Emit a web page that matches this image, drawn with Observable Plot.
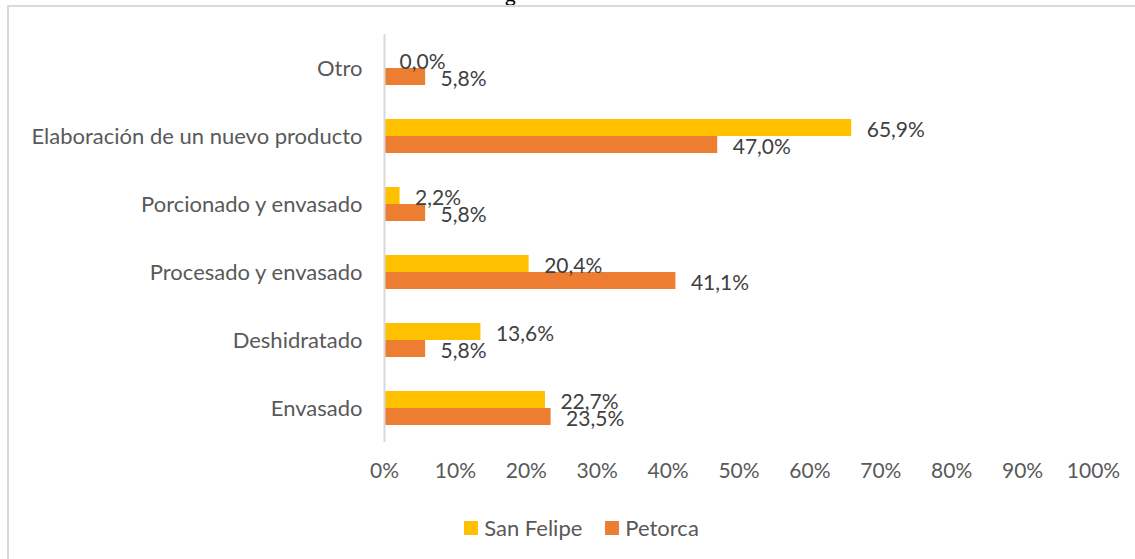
<!DOCTYPE html>
<html>
<head>
<meta charset="utf-8">
<script src="https://cdn.jsdelivr.net/npm/d3@7"></script>
<script src="https://cdn.jsdelivr.net/npm/@observablehq/plot@0.6"></script>
<style>
  html, body { margin: 0; padding: 0; background: #fff; }
  body { width: 1135px; height: 559px; position: relative; overflow: hidden; font-family: Lato, "Open Sans", sans-serif; }
  #frame { position: absolute; left: 7px; top: 5px; width: 1300px; height: 800px; border: 2px solid #d9d9d9; box-sizing: border-box; pointer-events: none; }
  #chart { position: absolute; left: 0; top: 0; }
  #legend { position: absolute; left: 14px; top: 514px; width: 1135px; display: flex; justify-content: center; gap: 23px; font-size: 22px; color: #595959; }
  #legend .item { display: flex; align-items: center; gap: 6px; }
  #legend .sw { width: 14px; height: 14px; display: inline-block; }
  #cut { position: absolute; left: 505px; top: -17px; font-size: 21px; line-height: 21px; color: #000; }
</style>
</head>
<body>
<div id="cut">g</div>
<div id="frame"></div>
<div id="chart"></div>
<div id="legend"></div>
<script>
const categories = ["Otro", "Elaboración de un nuevo producto", "Porcionado y envasado", "Procesado y envasado", "Deshidratado", "Envasado"];
const seriesNames = ["San Felipe", "Petorca"];
const seriesColors = ["#FFC000", "#ED7D31"];
const sanFelipe = [0.0, 65.9, 2.2, 20.4, 13.6, 22.7];
const petorca = [5.8, 47.0, 5.8, 41.1, 5.8, 23.5];
const xTicks = [0, 10, 20, 30, 40, 50, 60, 70, 80, 90, 100];

const rows = [];
categories.forEach((c, i) => {
  rows.push({category: c, series: seriesNames[0], value: sanFelipe[i]});
  rows.push({category: c, series: seriesNames[1], value: petorca[i]});
});
const fmt = v => v.toFixed(1).replace(".", ",") + "%";

const chart = Plot.plot({
  width: 1135,
  height: 500,
  marginLeft: 384,
  marginRight: 42,
  marginTop: 34,
  marginBottom: 58,
  style: {fontFamily: "Lato, 'Open Sans', sans-serif", fontSize: "21px", background: "transparent"},
  x: {domain: [0, 100], axis: null},
  y: {domain: seriesNames, axis: null, paddingInner: 0, paddingOuter: 0.889},
  fy: {domain: categories, padding: 0, label: null, axis: null},
  color: {domain: seriesNames, range: seriesColors},
  marks: [
    Plot.axisFy({anchor: "left", tickSize: 0, tickPadding: 22, fill: "#595959", fontSize: 22, label: null}),
    Plot.axisX({ticks: xTicks, tickFormat: d => d + "%", tickSize: 0, tickPadding: 21, fill: "#595959", fontSize: 21, label: null}),
    Plot.barX(rows, {x: "value", y: "series", fy: "category", fill: "series", insetLeft: 1}),
    Plot.ruleX([0], {stroke: "#d9d9d9", strokeWidth: 2}),
    Plot.text(rows, {x: "value", y: "series", fy: "category", text: d => fmt(d.value), textAnchor: "start", dx: 15, dy: 2, fill: "#404040", fontSize: 21})
  ]
});
document.getElementById("chart").appendChild(chart);

const legend = document.getElementById("legend");
seriesNames.forEach((s, i) => {
  const item = document.createElement("div");
  item.className = "item";
  const sw = document.createElement("span");
  sw.className = "sw";
  sw.style.background = seriesColors[i];
  const label = document.createElement("span");
  label.textContent = s;
  item.appendChild(sw);
  item.appendChild(label);
  legend.appendChild(item);
});
</script>
</body>
</html>
